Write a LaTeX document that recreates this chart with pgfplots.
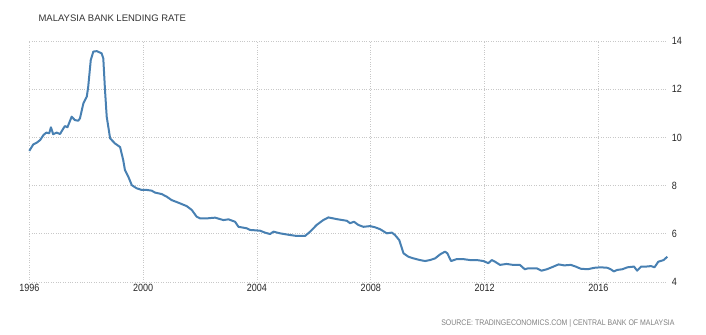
\documentclass[border=0pt]{standalone}
\usepackage{fontspec}
\setmainfont{Liberation Sans}
\newfontfamily\condensed[FakeStretch=0.86]{Liberation Sans}
\usepackage{pgfplots}
\pgfplotsset{compat=1.18}
\definecolor{lineblue}{RGB}{72,128,178}
\definecolor{gridgray}{RGB}{200,200,200}
\begin{document}
\begin{tikzpicture}[x=1bp,y=1bp]
\path[use as bounding box] (0,0) rectangle (706,334);
\node[anchor=west,text=black!80,font=\fontsize{9.5bp}{11bp}\selectfont] at (35,316) {MALAYSIA BANK LENDING RATE};
\node[anchor=east,text=black!50,font=\condensed\fontsize{8.1bp}{9bp}\selectfont] at (678,11) {SOURCE: TRADINGECONOMICS.COM | CENTRAL BANK OF MALAYSIA};
\begin{axis}[
  at={(29.3bp,52bp)}, anchor=south west,
  scale only axis, width=638bp, height=241bp,
  xmin=1996, xmax=2018.42, ymin=4, ymax=14,
  axis line style={draw=none},
  xtick={1996,2000,2004,2008,2012,2016},
  ytick={4,6,8,10,12,14},
  /pgf/number format/assume math mode=true,
  /pgf/number format/1000 sep={},
  yticklabel pos=right,
  tick style={draw=none},
  major tick length=0pt,
  grid=major,
  grid style={draw=gridgray, dotted, line width=0.8bp},
  ticklabel style={font=\condensed\fontsize{10.5bp}{12bp}\selectfont, text=black!85},
  xticklabel style={yshift=1bp},
  yticklabel style={xshift=1bp},
  clip=false,
]
\addplot[lineblue, line width=2bp, line join=round] coordinates {
(1996.00,9.44) (1996.14,9.71) (1996.26,9.78) (1996.38,9.89) (1996.50,10.10)
(1996.60,10.20) (1996.70,10.17) (1996.76,10.42) (1996.84,10.13) (1996.96,10.20)
(1997.08,10.14) (1997.16,10.30) (1997.25,10.47) (1997.34,10.42) (1997.49,10.86)
(1997.60,10.72) (1997.72,10.69) (1997.78,10.79) (1997.90,11.41) (1998.02,11.69)
(1998.07,12.10) (1998.16,13.21) (1998.25,13.56) (1998.37,13.58) (1998.54,13.49)
(1998.60,13.28) (1998.66,11.97) (1998.72,10.86) (1998.84,9.96) (1999.01,9.75)
(1999.19,9.60) (1999.30,9.06) (1999.36,8.65) (1999.48,8.37) (1999.60,8.02)
(1999.77,7.89) (1999.95,7.82) (2000.13,7.82) (2000.30,7.79) (2000.42,7.71)
(2000.65,7.65) (2000.83,7.54) (2001.00,7.40) (2001.24,7.29) (2001.53,7.15)
(2001.71,6.99) (2001.88,6.71) (2002.00,6.64) (2002.24,6.64) (2002.53,6.67)
(2002.82,6.57) (2003.00,6.60) (2003.23,6.50) (2003.35,6.29) (2003.64,6.23)
(2003.76,6.16) (2004.11,6.13) (2004.28,6.05) (2004.46,5.99) (2004.58,6.09)
(2004.81,6.02) (2005.16,5.95) (2005.40,5.91) (2005.69,5.91) (2005.87,6.09)
(2006.10,6.37) (2006.33,6.57) (2006.51,6.68) (2006.80,6.61) (2007.16,6.54)
(2007.27,6.44) (2007.41,6.50) (2007.56,6.37) (2007.74,6.29) (2007.98,6.32)
(2008.15,6.27) (2008.33,6.19) (2008.56,6.02) (2008.74,6.05) (2008.85,5.95)
(2009.00,5.74) (2009.15,5.19) (2009.32,5.05) (2009.50,4.98) (2009.73,4.91)
(2009.91,4.87) (2010.08,4.91) (2010.26,4.98) (2010.44,5.15) (2010.61,5.26)
(2010.69,5.19) (2010.82,4.87) (2011.02,4.95) (2011.25,4.95) (2011.49,4.91)
(2011.73,4.91) (2011.96,4.87) (2012.13,4.78) (2012.25,4.91) (2012.37,4.84)
(2012.54,4.71) (2012.77,4.75) (2013.00,4.71) (2013.24,4.71) (2013.41,4.53)
(2013.54,4.57) (2013.83,4.57) (2014.00,4.47) (2014.19,4.53) (2014.36,4.61)
(2014.60,4.73) (2014.80,4.69) (2015.03,4.71) (2015.20,4.64) (2015.38,4.55)
(2015.62,4.53) (2015.86,4.59) (2016.08,4.61) (2016.31,4.59) (2016.43,4.53)
(2016.54,4.44) (2016.66,4.50) (2016.84,4.53) (2017.02,4.61) (2017.25,4.64)
(2017.36,4.47) (2017.50,4.64) (2017.67,4.64) (2017.85,4.66) (2017.97,4.61)
(2018.10,4.84) (2018.29,4.91) (2018.42,5.05)
};
\end{axis}
\end{tikzpicture}
\end{document}
